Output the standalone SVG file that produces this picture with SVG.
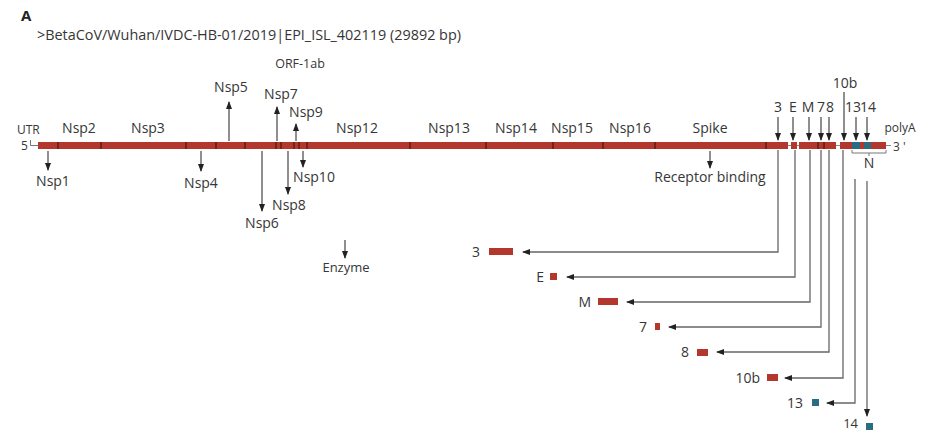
<svg xmlns="http://www.w3.org/2000/svg" width="926" height="433" viewBox="0 0 926 433">
<style>
text{font-family:"Open Sans","Liberation Sans",sans-serif;font-size:14px;fill:#363636}
.sm{font-size:12px}
.c{text-anchor:middle}
.e{text-anchor:end}
.red{fill:#b3372d}
.teal{fill:#2c6c82}
.div{stroke:#4a1712;stroke-width:1.2}
.ln{stroke:#666;stroke-width:1.3;fill:none}
.ar{stroke:#333;stroke-width:1.1;fill:none}
</style>
<defs>
<marker id="ah" markerWidth="8" markerHeight="6" refX="7" refY="3" orient="auto" markerUnits="userSpaceOnUse">
<path d="M0,0 L8,3 L0,6 z" fill="#222"/>
</marker>
</defs>
<rect width="926" height="433" fill="#fff"/>
<text x="21" y="21" style="font-weight:bold;font-size:15px;fill:#222">A</text>
<text x="37" y="40" style="font-size:14.4px">&gt;BetaCoV/Wuhan/IVDC-HB-01/2019|EPI_ISL_402119 (29892 bp)</text>
<text x="300" y="68" class="c" style="font-size:12.5px">ORF-1ab</text>

<g id="genome">
<line x1="31" y1="145.5" x2="891" y2="145.5" stroke="#888" stroke-width="1"/>
<path d="M30.5,140 V145.5 H38" stroke="#777" fill="none" stroke-width="1"/>
<text x="21" y="150" class="sm">5</text>
<text x="17" y="134" class="sm">UTR</text>
<rect class="red" x="38" y="142" width="750" height="7"/>
<rect class="red" x="791" y="142" width="6" height="7"/>
<rect class="red" x="799" y="142" width="37" height="7"/>
<rect class="red" x="840" y="142" width="46" height="7"/>
<rect class="teal" x="852" y="142" width="8" height="7"/>
<rect class="teal" x="864" y="142" width="7" height="7"/>
<g class="div">
<line x1="58" y1="142" x2="58" y2="149"/><line x1="101" y1="142" x2="101" y2="149"/>
<line x1="186" y1="142" x2="186" y2="149"/><line x1="216" y1="142" x2="216" y2="149"/>
<line x1="245" y1="142" x2="245" y2="149"/><line x1="276" y1="142" x2="276" y2="149"/>
<line x1="281" y1="142" x2="281" y2="149"/><line x1="294" y1="142" x2="294" y2="149"/>
<line x1="299" y1="142" x2="299" y2="149"/><line x1="307" y1="142" x2="307" y2="149"/>
<line x1="410" y1="142" x2="410" y2="149"/><line x1="486" y1="142" x2="486" y2="149"/>
<line x1="553" y1="142" x2="553" y2="149"/><line x1="603" y1="142" x2="603" y2="149"/>
<line x1="655" y1="142" x2="655" y2="149"/><line x1="766" y1="142" x2="766" y2="149"/>
<line x1="818" y1="142" x2="818" y2="149"/><line x1="824" y1="142" x2="824" y2="149"/>
</g>
<text x="893" y="151" class="sm">3 '</text>
<text x="900" y="132" class="sm c">polyA</text>
<path d="M852,150 V153 H886 V150 M869,153 V156" stroke="#777" fill="none" stroke-width="1"/>
</g>

<g id="bar-labels">
<text x="79" y="133" class="c">Nsp2</text>
<text x="148" y="133" class="c">Nsp3</text>
<text x="357" y="133" class="c">Nsp12</text>
<text x="449" y="133" class="c">Nsp13</text>
<text x="516" y="133" class="c">Nsp14</text>
<text x="572" y="133" class="c">Nsp15</text>
<text x="630" y="133" class="c">Nsp16</text>
<text x="710" y="133" class="c">Spike</text>
</g>

<g id="nsp-up">
<text x="231" y="92" class="c">Nsp5</text>
<text x="281" y="99" class="c">Nsp7</text>
<text x="306" y="117" class="c">Nsp9</text>
</g>
<g id="nsp-down">
<text x="53" y="186" class="c">Nsp1</text>
<text x="201" y="188" class="c">Nsp4</text>
<text x="314" y="182" class="c">Nsp10</text>
<text x="289" y="210" class="c">Nsp8</text>
<text x="262" y="228" class="c">Nsp6</text>
<text x="710" y="182" class="c">Receptor binding</text>
<text x="346" y="272" class="c" style="font-size:13px">Enzyme</text>
</g>

<g id="orf-labels">
<text x="778" y="112" class="c">3</text>
<text x="793" y="112" class="c">E</text>
<text x="808" y="112" class="c">M</text>
<text x="821" y="112" class="c">7</text>
<text x="830" y="112" class="c">8</text>
<text x="845" y="88" class="c">10b</text>
<text x="853" y="112" class="c">13</text>
<text x="868" y="112" class="c">14</text>
<text x="869" y="168" class="c">N</text>
</g>

<g id="products">
<text x="480" y="257" class="e">3</text>
<rect class="red" x="489" y="248" width="24" height="7"/>
<text x="544" y="282" class="e">E</text>
<rect class="red" x="550" y="273" width="7" height="7"/>
<text x="591" y="307" class="e">M</text>
<rect class="red" x="598" y="298" width="20" height="7"/>
<text x="647" y="332" class="e">7</text>
<rect class="red" x="655" y="323" width="5" height="7"/>
<text x="689" y="357" class="e">8</text>
<rect class="red" x="697" y="349" width="11" height="7"/>
<text x="760" y="383" class="e">10b</text>
<rect class="red" x="767" y="374" width="11" height="7"/>
<text x="803" y="408" class="e">13</text>
<rect class="teal" x="812" y="399" width="7" height="7"/>
<text x="858" y="428" class="e" style="font-size:13px">14</text>
<rect class="teal" x="866" y="423" width="7" height="7"/>
</g>

<g id="connectors">
<g class="ar" marker-end="url(#ah)">
<line x1="48" y1="151" x2="48" y2="170"/>
<line x1="201" y1="151" x2="201" y2="171"/>
<line x1="229" y1="141" x2="229" y2="102"/>
<line x1="277" y1="141" x2="277" y2="107"/>
<line x1="296" y1="141" x2="296" y2="124"/>
<line x1="303" y1="151" x2="303" y2="167"/>
<line x1="288" y1="151" x2="288" y2="194"/>
<line x1="262" y1="151" x2="262" y2="211"/>
<line x1="710" y1="151" x2="710" y2="168"/>
<line x1="345" y1="240" x2="345" y2="258"/>
<line x1="778" y1="117" x2="778" y2="140"/>
<line x1="793" y1="117" x2="793" y2="140"/>
<line x1="809" y1="117" x2="809" y2="140"/>
<line x1="821" y1="117" x2="821" y2="140"/>
<line x1="829" y1="117" x2="829" y2="140"/>
<line x1="844" y1="92" x2="844" y2="140"/>
<line x1="856" y1="117" x2="856" y2="140"/>
<line x1="867" y1="117" x2="867" y2="140"/>
</g>
<g class="ln" marker-end="url(#ah)">
<path d="M778,150 V252 H523"/>
<path d="M795,150 V277 H567"/>
<path d="M810,150 V302 H627"/>
<path d="M821,150 V327 H669"/>
<path d="M829,150 V352 H717"/>
<path d="M843,150 V378 H785"/>
<path d="M855,179 V403 H827"/>
<path d="M867,181 V416"/>
</g>
</g>
</svg>
